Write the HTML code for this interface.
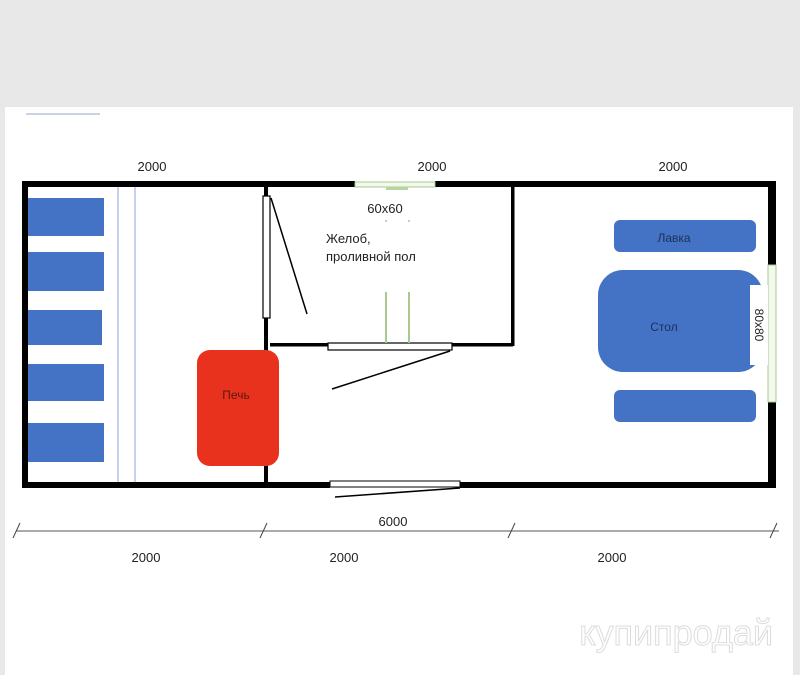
<!DOCTYPE html>
<html><head><meta charset="utf-8"><style>
html,body{margin:0;padding:0;background:#e8e8e8;}
svg{display:block;}
text{font-family:"Liberation Sans","DejaVu Sans",sans-serif;}
</style></head><body>
<svg width="800" height="675" viewBox="0 0 800 675" xmlns="http://www.w3.org/2000/svg">
<rect x="0" y="0" width="800" height="675" fill="#e8e8e8"/>
<rect x="5" y="107" width="788" height="570" fill="#ffffff"/>
<line x1="26" y1="114" x2="100" y2="114" stroke="#9aa6c4" stroke-width="1"/>
<!-- thin blue lines -->
<line x1="118" y1="183" x2="118" y2="482" stroke="#8fa3d8" stroke-width="1"/>
<line x1="135" y1="183" x2="135" y2="482" stroke="#8fa3d8" stroke-width="1"/>
<!-- benches left -->
<g fill="#4472c4">
<rect x="26" y="198" width="78" height="38"/>
<rect x="26" y="252" width="78" height="39"/>
<rect x="28" y="310" width="74" height="35"/>
<rect x="28" y="364" width="76" height="37"/>
<rect x="28" y="423" width="76" height="39"/>
</g>
<!-- outer walls -->
<g fill="#000">
<rect x="22" y="181" width="333" height="6"/>
<rect x="435" y="181" width="341" height="6"/>
<rect x="22" y="181" width="6" height="307"/>
<rect x="768" y="181" width="8" height="84"/>
<rect x="768" y="402" width="8" height="86"/>
<rect x="22" y="482" width="308" height="6"/>
<rect x="460" y="482" width="316" height="6"/>
</g>
<!-- windows -->
<rect x="355" y="182" width="80" height="5" fill="#f4f9ee" stroke="#a9c98f" stroke-width="1"/>
<rect x="386" y="187" width="22" height="3" fill="#b8d4a0"/>
<rect x="768" y="265" width="8" height="137" fill="#f4f9ee" stroke="#a9c98f" stroke-width="1"/>
<!-- bottom door -->
<rect x="330" y="481" width="130" height="6" fill="#fff" stroke="#000" stroke-width="1"/>
<line x1="335" y1="497" x2="460" y2="488" stroke="#000" stroke-width="1.5"/>
<!-- inner walls -->
<rect x="264" y="187" width="4" height="295" fill="#000"/>
<rect x="270" y="343" width="243" height="3.5" fill="#000"/>
<rect x="511" y="187" width="3.5" height="159" fill="#000"/>
<rect x="263" y="196" width="7" height="122" fill="#fff" stroke="#000" stroke-width="1.2"/>
<line x1="271" y1="198" x2="307" y2="314" stroke="#000" stroke-width="1.5"/>
<rect x="328" y="343" width="124" height="7" fill="#fff" stroke="#000" stroke-width="1.2"/>
<line x1="450" y1="351" x2="332" y2="389" stroke="#000" stroke-width="1.5"/>
<!-- green lines -->
<line x1="386" y1="292" x2="386" y2="343" stroke="#a9c98f" stroke-width="2"/>
<line x1="409" y1="292" x2="409" y2="343" stroke="#a9c98f" stroke-width="2"/>
<circle cx="386" cy="221" r="1" fill="#a9c98f"/><circle cx="409" cy="221" r="1" fill="#a9c98f"/>
<!-- stove -->
<rect x="197" y="350" width="82" height="116" rx="13" fill="#e8321e"/>
<text x="236" y="399" font-size="12" text-anchor="middle" fill="#5a1a10">Печь</text>
<!-- right furniture -->
<rect x="614" y="220" width="142" height="32" rx="6" fill="#4472c4"/>
<text x="674" y="242" font-size="12" text-anchor="middle" fill="#1f2f5a">Лавка</text>
<rect x="598" y="270" width="165" height="102" rx="25" fill="#4472c4"/>
<text x="664" y="331" font-size="12" text-anchor="middle" fill="#1f2f5a">Стол</text>
<rect x="614" y="390" width="142" height="32" rx="6" fill="#4472c4"/>
<rect x="750" y="285" width="18" height="80" fill="#fff"/>
<text transform="translate(759,315) rotate(90)" x="10" y="4" font-size="12" text-anchor="middle" fill="#222">80x80</text>
<!-- labels -->
<g font-size="13" fill="#222">
<text x="152" y="171" text-anchor="middle">2000</text>
<text x="432" y="171" text-anchor="middle">2000</text>
<text x="673" y="171" text-anchor="middle">2000</text>
<text x="385" y="213" text-anchor="middle">60x60</text>
<text x="326" y="243">Желоб,</text>
<text x="326" y="261">проливной пол</text>
<text x="393" y="526" text-anchor="middle">6000</text>
<text x="146" y="562" text-anchor="middle">2000</text>
<text x="344" y="562" text-anchor="middle">2000</text>
<text x="612" y="562" text-anchor="middle">2000</text>
</g>
<!-- dimension line -->
<line x1="16" y1="531" x2="779" y2="531" stroke="#555" stroke-width="1"/>
<g stroke="#444" stroke-width="1">
<line x1="13" y1="538" x2="20" y2="523"/>
<line x1="260" y1="538" x2="267" y2="523"/>
<line x1="508" y1="538" x2="515" y2="523"/>
<line x1="770" y1="538" x2="777" y2="523"/>
</g>
<text x="773" y="645" font-size="36" text-anchor="end" fill="#fff" stroke="#dcdcdc" stroke-width="1">купипродай</text>
</svg>
</body></html>
